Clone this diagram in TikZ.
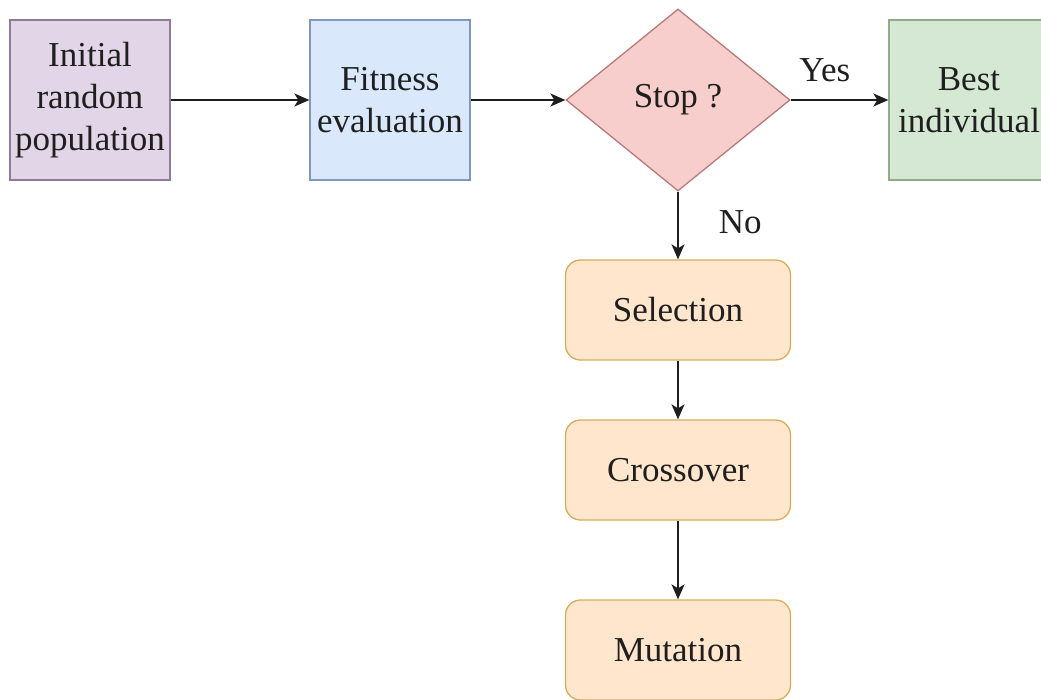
\documentclass[tikz,border=0pt]{standalone}
\usepackage{fontspec}
\setmainfont{Liberation Serif}
\newfontfamily\labelfont{Liberation Serif}
\usetikzlibrary{shapes.geometric,arrows.meta}

\definecolor{purpleF}{HTML}{E1D5E7}
\definecolor{purpleD}{HTML}{8E7D98}
\definecolor{blueF}{HTML}{DAE8FC}
\definecolor{blueD}{HTML}{7F97BF}
\definecolor{redF}{HTML}{F8CECC}
\definecolor{redD}{HTML}{B87A78}
\definecolor{greenF}{HTML}{D5E8D4}
\definecolor{greenD}{HTML}{8FAE88}
\definecolor{orangeF}{HTML}{FFE6CC}
\definecolor{orangeD}{HTML}{D4AE5E}
\definecolor{lineC}{HTML}{1E1E1E}

\tikzset{
  txt/.style={font=\labelfont\fontsize{35}{42}\selectfont, text=black!88, align=center, inner sep=0pt},
  sqbox/.style={txt, draw, line width=1.3pt, minimum width=160pt, minimum height=160pt},
  stepbox/.style={txt, draw=orangeD, fill=orangeF, line width=1.3pt, rounded corners=15pt,
                  minimum width=225pt, minimum height=100pt},
  decision/.style={txt, diamond, draw=redD, fill=redF, line width=1.3pt,
                   minimum width=224pt, minimum height=182pt},
  flow/.style={draw=lineC, line width=1.8pt, -{Stealth[length=15pt,width=13pt,inset=4pt]}},
  lbl/.style={txt}
}

\begin{document}
\begin{tikzpicture}[x=1pt,y=-1pt]
  \useasboundingbox (0,0) rectangle (1041,700);
  \clip (0,0) rectangle (1041,700);
  \fill[white] (0,0) rectangle (1041,700);

  % top row
  \node[sqbox, draw=purpleD, fill=purpleF] (init) at (90,100) {Initial\\random\\population};
  \node[sqbox, draw=blueD, fill=blueF] (fit) at (390,100) {Fitness\\evaluation};
  \node[decision] (stop) at (678,100) {Stop ?};
  \node[sqbox, draw=greenD, fill=greenF] (best) at (969,100) {Best\\individual};

  % genetic operators
  \node[stepbox] (sel) at (678,310) {Selection};
  \node[stepbox] (cross) at (678,470) {Crossover};
  \node[stepbox] (mut) at (678,650) {Mutation};

  % connectors
  \draw[flow] (init.east) -- (fit.west);
  \draw[flow] (fit.east) -- (stop.west);
  \draw[flow] (stop.east) -- (best.west) node[lbl, pos=0.35, above=17pt] {Yes};
  \draw[flow] (stop.south) -- (sel.north) node[lbl, pos=0.45, right=40pt] {No};
  \draw[flow] (sel.south) -- (cross.north);
  \draw[flow] (cross.south) -- (mut.north);
\end{tikzpicture}
\end{document}
